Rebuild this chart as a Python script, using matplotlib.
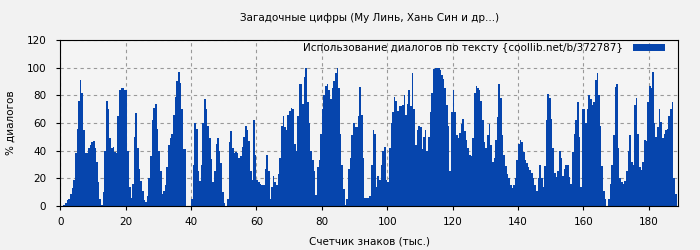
import numpy as np
import matplotlib
matplotlib.use("Agg")
import matplotlib.pyplot as plt

# share of dialogue (%) per half-thousand characters
step = 0.5
usage = [
    0, 0, 1, 2, 4, 5, 9, 13, 19, 38, 56, 76, 91, 82, 55, 38, 38, 42, 44, 46,
    47, 42, 32, 17, 5, 1, 10, 40, 76, 70, 49, 42, 43, 39, 38, 65, 84, 85, 85, 84,
    84, 40, 14, 6, 16, 50, 67, 42, 27, 18, 11, 4, 3, 7, 20, 36, 62, 71, 74, 56,
    40, 25, 9, 11, 15, 28, 44, 49, 52, 66, 79, 90, 97, 89, 70, 41, 41, 0, 0, 0,
    5, 30, 60, 56, 25, 18, 30, 60, 77, 70, 58, 49, 34, 17, 25, 45, 49, 40, 31, 10,
    2, 0, 5, 46, 54, 42, 38, 39, 38, 35, 36, 43, 50, 58, 55, 47, 25, 19, 62, 37,
    19, 17, 16, 15, 15, 27, 37, 25, 5, 14, 22, 17, 15, 23, 35, 58, 65, 57, 55, 66,
    69, 71, 70, 45, 40, 65, 88, 88, 74, 93, 100, 75, 60, 40, 33, 25, 8, 28, 33, 52,
    70, 80, 87, 88, 84, 77, 85, 90, 96, 100, 85, 52, 30, 12, 1, 5, 27, 35, 51, 60,
    57, 57, 65, 86, 66, 35, 6, 6, 6, 7, 30, 55, 52, 14, 22, 19, 30, 40, 43, 19,
    17, 42, 60, 68, 79, 76, 69, 72, 72, 73, 80, 66, 74, 84, 72, 96, 70, 44, 55, 58,
    57, 41, 50, 55, 40, 50, 68, 82, 99, 100, 100, 100, 98, 95, 92, 85, 73, 58, 25, 68,
    84, 68, 51, 49, 53, 59, 63, 54, 48, 42, 37, 36, 49, 82, 87, 85, 84, 76, 62, 46,
    42, 51, 59, 44, 32, 35, 48, 64, 88, 78, 51, 37, 29, 23, 20, 15, 13, 15, 20, 33,
    45, 48, 46, 39, 33, 31, 28, 26, 24, 20, 15, 11, 20, 30, 20, 14, 29, 62, 81, 78,
    63, 42, 24, 21, 25, 40, 35, 22, 27, 30, 30, 21, 16, 39, 52, 62, 75, 50, 14, 70,
    70, 60, 70, 80, 77, 73, 75, 91, 96, 80, 58, 29, 11, 5, 0, 5, 16, 30, 51, 86,
    88, 42, 20, 17, 16, 18, 25, 40, 51, 32, 30, 73, 78, 52, 28, 26, 32, 48, 47, 75,
    87, 85, 97, 60, 50, 57, 70, 61, 49, 52, 55, 56, 65, 70, 75, 20, 9,
]
chars_k = np.arange(len(usage)) * step

x_ticks = list(range(0, 181, 20))
y_ticks = list(range(0, 121, 20))

bg = "#f2f2f2"
bar_color = "#0645ad"

fig = plt.figure(figsize=(7, 2.5), dpi=100, facecolor=bg)
ax = fig.add_axes([0.086, 0.176, 0.883, 0.664], facecolor="#f4f4f4")

ax.bar(chars_k, usage, width=step, color=bar_color, linewidth=0, align="edge",
       label="Использование диалогов по тексту {coollib.net/b/372787}", zorder=2)

ax.set_xlim(0, 189)
ax.set_ylim(0, 120)
ax.set_xticks(x_ticks)
ax.set_yticks(y_ticks)
ax.tick_params(axis="y", labelsize=7.5, length=3, pad=7)
ax.tick_params(axis="x", labelsize=7.5, length=3, pad=5)
ax.grid(True, color="#999999", linestyle=(0, (3, 3)), linewidth=0.8, zorder=0)
ax.set_axisbelow(True)

ax.set_title("Загадочные цифры (Му Линь, Хань Син и др...)", fontsize=7.5, pad=14)
ax.set_xlabel("Счетчик знаков (тыс.)", fontsize=7.5, labelpad=7)
ax.set_ylabel("% диалогов", fontsize=7.5, labelpad=8)

ax.legend(loc="upper right", bbox_to_anchor=(0.979, 0.982), fontsize=7.5,
          frameon=False, markerfirst=False, handlelength=3.1, handleheight=0.6,
          handletextpad=1.0, borderaxespad=0, borderpad=0)

fig.savefig("out.png", dpi=100, facecolor=bg)
